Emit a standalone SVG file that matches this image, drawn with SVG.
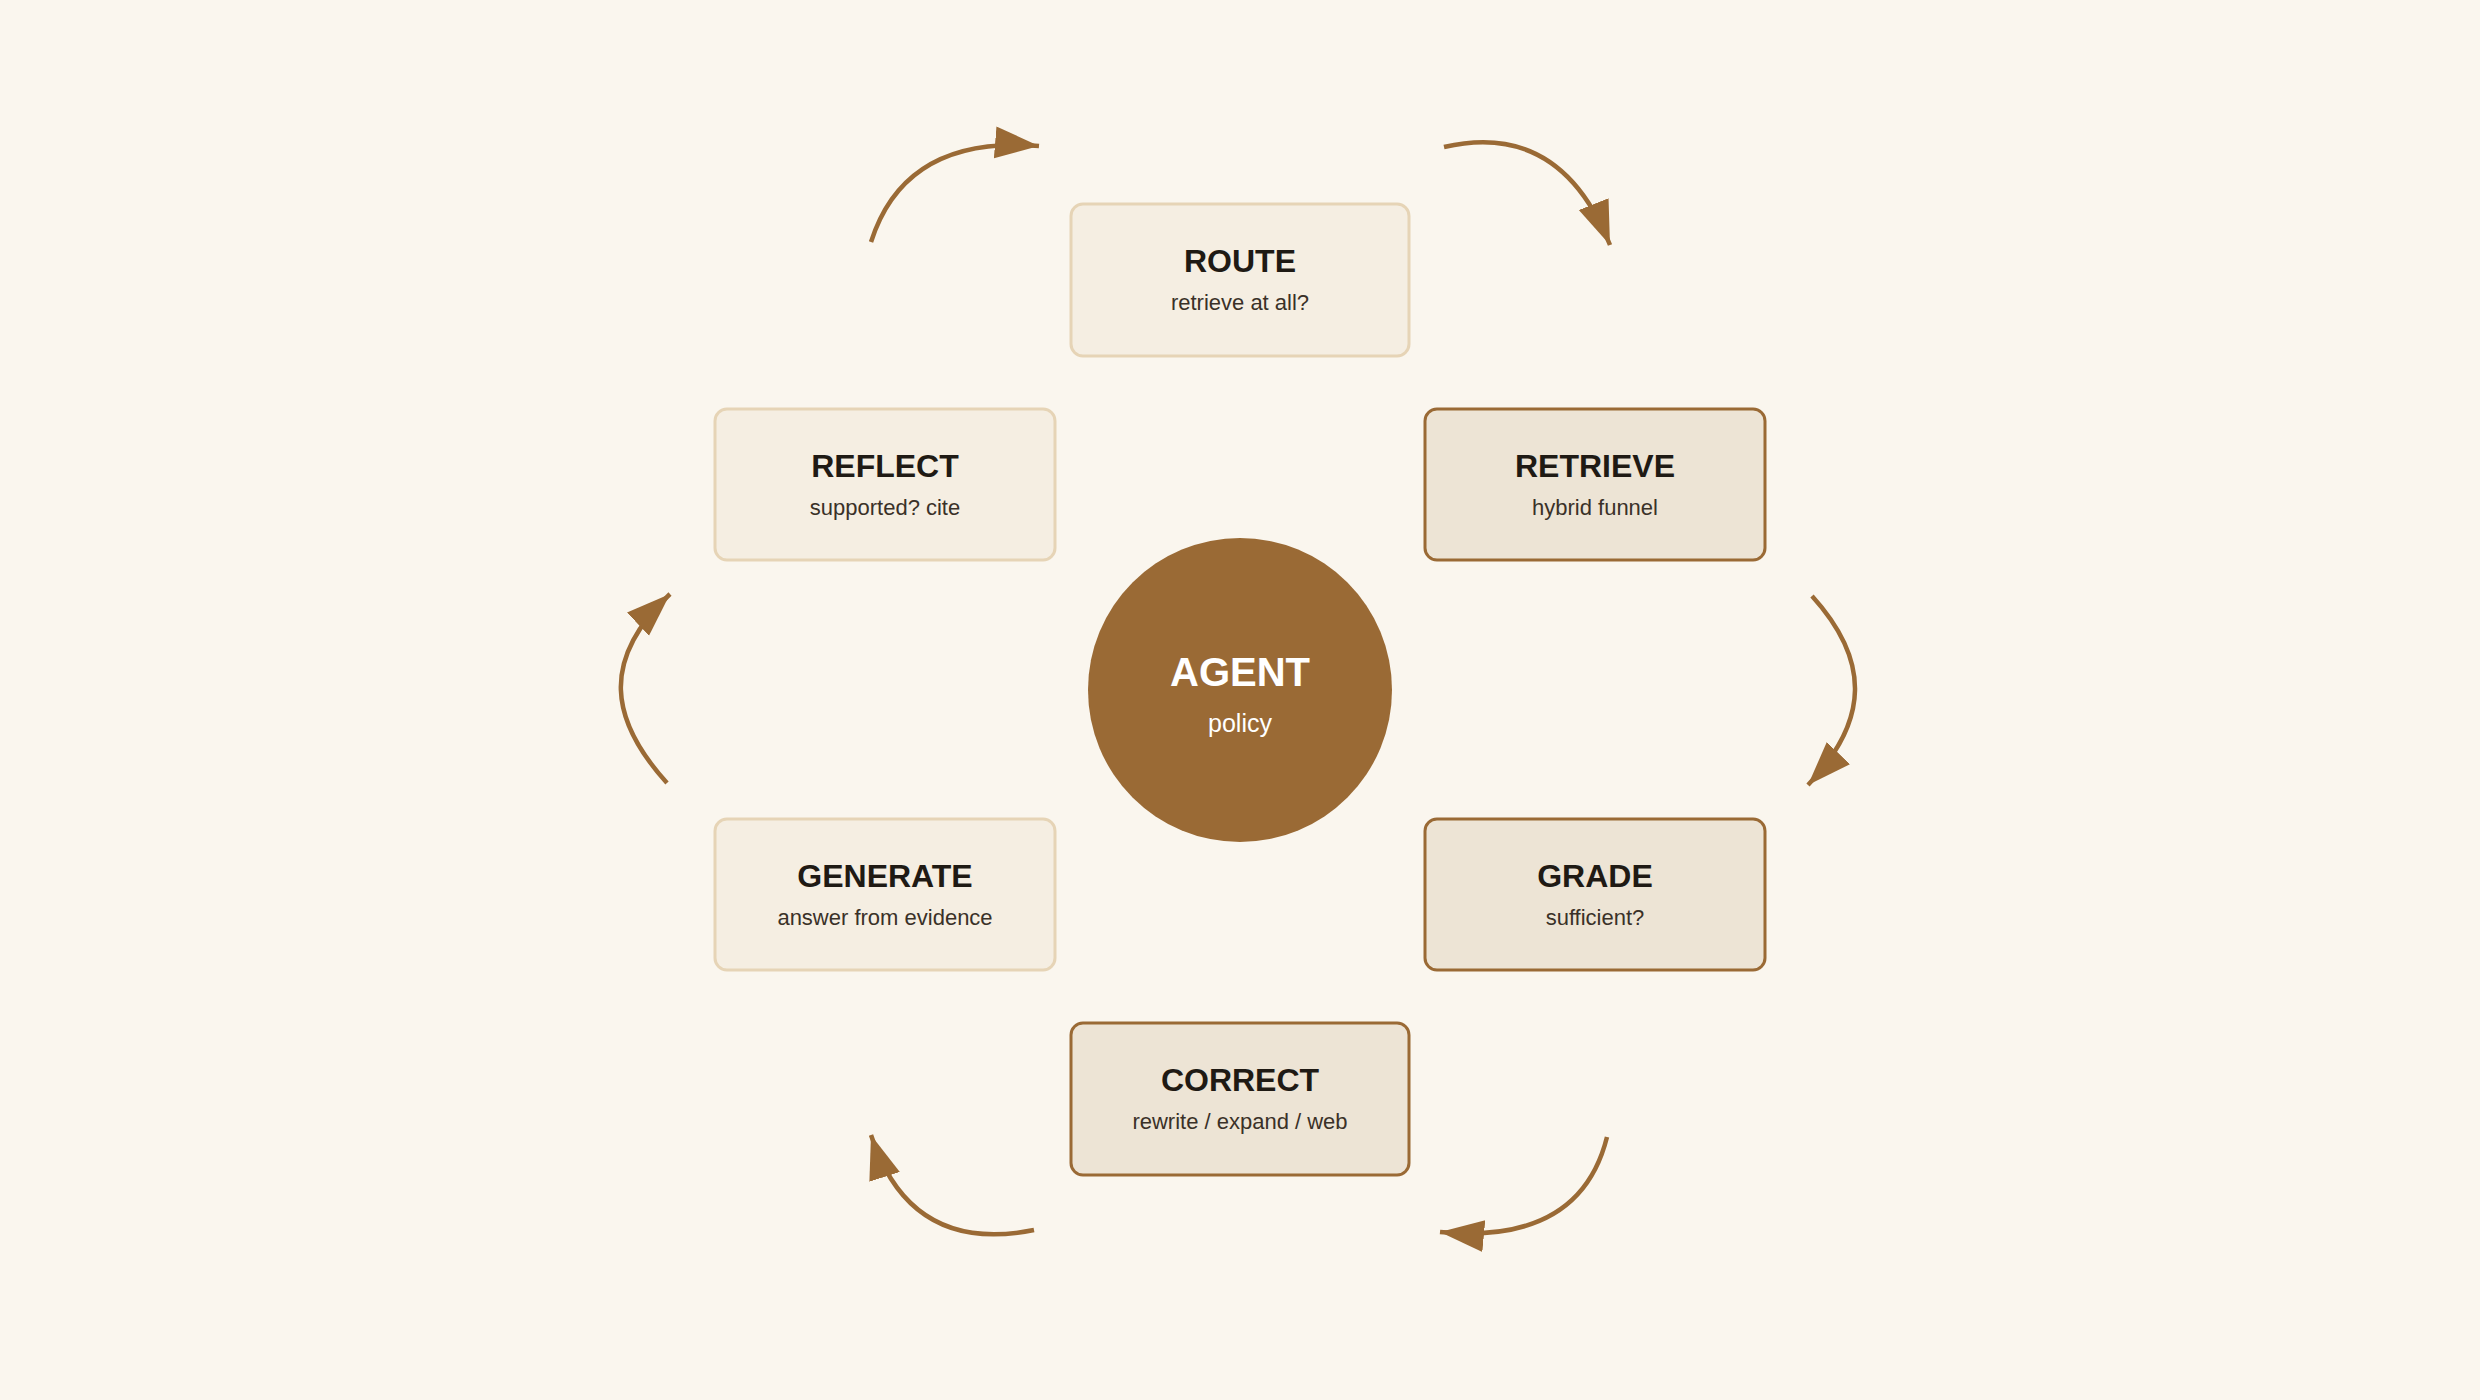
<svg xmlns="http://www.w3.org/2000/svg" width="2480" height="1400" viewBox="0 0 2480 1400">
<style>
.t{font-family:"Liberation Sans",Arial,sans-serif;font-weight:bold;font-size:32px;fill:#1f1a14;text-anchor:middle}
.s{font-family:"Liberation Sans",Arial,sans-serif;font-size:22px;fill:#3a3128;text-anchor:middle}
.lite{fill:#f5eee2;stroke:#e6d4b6;stroke-width:3}
.dark{fill:#ede4d5;stroke:#9a6a35;stroke-width:3}
.c{fill:none;stroke:#9a6a35;stroke-width:4.5}
</style>
<defs>
<marker id="ah" markerUnits="userSpaceOnUse" markerWidth="48" markerHeight="36" refX="44" refY="16" orient="auto">
<path d="M0,0 L44,16 L0,32 Z" fill="#9a6a35"/>
</marker>
</defs>
<rect width="2480" height="1400" fill="#faf6ee"/>
<g id="connectors">
<path class="c" d="M871,242 Q905,135 1039,146" marker-end="url(#ah)"/>
<path class="c" d="M1444,147 Q1560,120 1610,245" marker-end="url(#ah)"/>
<path class="c" d="M1812,596 C1870,660 1870,720 1808,785" marker-end="url(#ah)"/>
<path class="c" d="M1607,1137 Q1580,1245 1440,1232" marker-end="url(#ah)"/>
<path class="c" d="M1034,1230 Q910,1255 871,1135" marker-end="url(#ah)"/>
<path class="c" d="M667,783 C610,720 600,660 670,594" marker-end="url(#ah)"/>
</g>
<g id="route"><rect class="lite" x="1071" y="204" width="338" height="152" rx="12"/><text class="t" x="1240" y="272">ROUTE</text><text class="s" x="1240" y="310">retrieve at all?</text></g>
<g id="reflect"><rect class="lite" x="715" y="409" width="340" height="151" rx="12"/><text class="t" x="885" y="477">REFLECT</text><text class="s" x="885" y="515">supported? cite</text></g>
<g id="retrieve"><rect class="dark" x="1425" y="409" width="340" height="151" rx="12"/><text class="t" x="1595" y="477">RETRIEVE</text><text class="s" x="1595" y="515">hybrid funnel</text></g>
<g id="generate"><rect class="lite" x="715" y="819" width="340" height="151" rx="12"/><text class="t" x="885" y="887">GENERATE</text><text class="s" x="885" y="925">answer from evidence</text></g>
<g id="grade"><rect class="dark" x="1425" y="819" width="340" height="151" rx="12"/><text class="t" x="1595" y="887">GRADE</text><text class="s" x="1595" y="925">sufficient?</text></g>
<g id="correct"><rect class="dark" x="1071" y="1023" width="338" height="152" rx="12"/><text class="t" x="1240" y="1091">CORRECT</text><text class="s" x="1240" y="1129">rewrite / expand / web</text></g>
<g id="agent"><circle cx="1240" cy="690" r="152" fill="#9a6a35"/><text class="t" x="1240" y="686" style="fill:#fff;font-size:40px">AGENT</text><text class="s" x="1240" y="732" style="fill:#fff;font-size:25px">policy</text></g>
</svg>
